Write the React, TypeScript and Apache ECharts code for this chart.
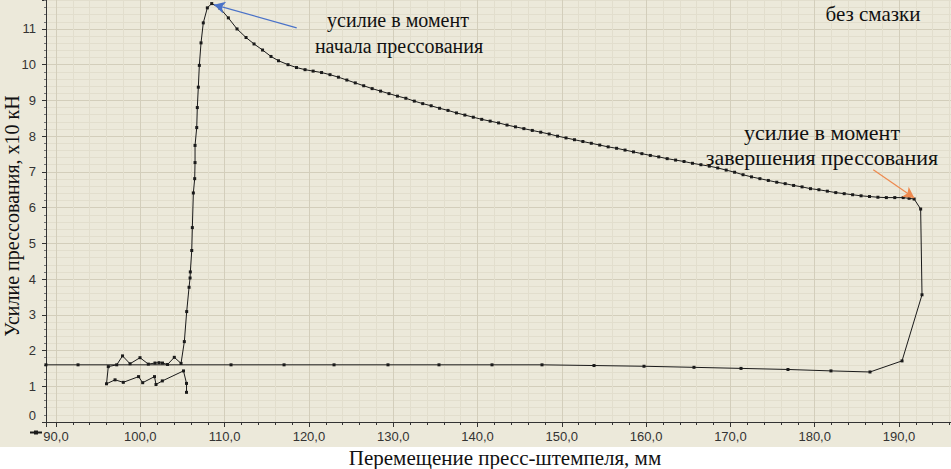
import React, { useEffect, useRef } from "react";
import * as echarts from "echarts";

// Перемещение пресс-штемпеля, мм (x) and Усилие прессования, x10 кН (y), in path order
const displacement = [
  105.48, 105.48, 105.12, 102.61, 101.86, 101.68, 100.28, 99.79, 97.98, 97.0, 95.99,
  96.2, 97.2, 97.89, 98.78, 99.96, 100.95, 101.74, 102.22, 102.63, 103.23, 104.03, 104.83,
  105.22, 105.5, 105.78, 105.9, 105.93, 106.1, 106.17, 106.29, 106.45, 106.49, 106.49, 106.69,
  106.76, 106.88, 107.0, 107.2, 107.47, 107.95, 108.47,
  109.45, 110.44, 111.47, 112.54, 113.49, 114.5, 115.5, 116.39, 117.52, 118.53, 119.54,
  120.5, 121.5, 122.5, 123.5, 124.5, 125.5, 126.5, 127.5, 128.5, 129.5, 130.5, 131.5, 132.5,
  133.5, 134.5, 135.5, 136.5, 137.5, 138.5, 139.5, 140.5, 141.5, 142.5, 143.5, 144.5, 145.5,
  146.5, 147.5, 148.5, 149.5, 150.5, 151.5, 152.5, 153.5, 154.5, 155.5, 156.5, 157.5, 158.5,
  159.5, 160.5, 161.5, 162.5, 163.5, 164.5, 165.5, 166.5, 167.5, 168.5, 169.5, 170.5, 171.5,
  172.5, 173.5, 174.5, 175.5, 176.5, 177.5, 178.5, 179.5, 180.5, 181.5, 182.5, 183.5, 184.5,
  185.5, 186.5, 187.5, 188.5, 189.5, 190.5, 191.2, 191.8, 192.57, 192.73,
  190.36, 186.56, 181.93, 176.83, 171.26, 165.68, 159.75, 153.82, 147.65, 141.72, 135.43,
  129.38, 122.98, 117.05, 110.76, 92.61, 88.8,
];
const force = [
  0.83, 1.08, 1.43, 1.15, 1.05, 1.27, 1.1, 1.27, 1.11, 1.18, 1.07,
  1.55, 1.6, 1.85, 1.63, 1.8, 1.62, 1.65, 1.66, 1.65, 1.61, 1.81, 1.64,
  2.25, 3.09, 3.77, 4.03, 4.2, 4.8, 5.44, 6.41, 6.81, 7.26, 7.74, 8.24,
  8.8, 9.37, 9.98, 10.61, 11.17, 11.59, 11.71,
  11.58, 11.31, 11.0, 10.76, 10.58, 10.41, 10.23, 10.11, 10.0, 9.92, 9.86,
  9.82, 9.78, 9.72, 9.65, 9.57, 9.49, 9.41, 9.33, 9.26, 9.19, 9.12, 9.06, 8.98,
  8.91, 8.85, 8.78, 8.72, 8.65, 8.59, 8.53, 8.47, 8.42, 8.37, 8.31, 8.26, 8.21,
  8.16, 8.11, 8.06, 8.0, 7.95, 7.9, 7.85, 7.8, 7.75, 7.7, 7.66, 7.61, 7.56,
  7.51, 7.46, 7.42, 7.37, 7.33, 7.29, 7.24, 7.2, 7.16, 7.11, 7.05, 6.99, 6.92,
  6.86, 6.81, 6.76, 6.71, 6.67, 6.62, 6.58, 6.53, 6.5, 6.46, 6.42, 6.39, 6.36,
  6.33, 6.31, 6.29, 6.28, 6.28, 6.28, 6.26, 6.24, 5.96, 3.56,
  1.71, 1.4, 1.43, 1.47, 1.5, 1.53, 1.56, 1.58, 1.6, 1.6, 1.6,
  1.6, 1.6, 1.6, 1.6, 1.6, 1.6,
];

// axis ranges
const xRange = [88.81, 196.17];
const yRange = [0, 11.81];

// arrows: [start, tip] in data coordinates
const startArrow = [[118.55, 11.03], [108.74, 11.68]];
const endArrow = [[186.95, 7.06], [191.82, 6.27]];

const texts = {
  yTitle: "Усилие прессования, x10 кН",
  xTitle: "Перемещение пресс-штемпеля, мм",
  startA: "усилие в момент",
  startB: "начала прессования",
  endA: "усилие в момент",
  endB: "завершения прессования",
  note: "без смазки",
};

const BG = "#ECE9DA";
const MAJOR = "#D3CEBB";
const MINOR = "#E2DECD";
const AXIS = "#333333";
const SERIF = "'Liberation Serif', 'Times New Roman', serif";
const SANS = "'Liberation Sans', Arial, sans-serif";

const isMultiple = (v: number, step: number) => Math.abs(v - Math.round(v / step) * step) < 1e-6;

export default function App() {
  const ref = useRef<HTMLDivElement>(null);
  useEffect(() => {
    if (!ref.current) return;
    const chart = echarts.init(ref.current, undefined, { renderer: "svg" });
    const data = displacement.map((x, i) => [x, force[i]]);
    const serifText = (text: string, x: number, y: number, size: number, extra: any = {}) => ({
      type: "text",
      x,
      y,
      z: 100,
      style: { text, font: `${size}px ${SERIF}`, fill: "#111", align: "center", verticalAlign: "middle" },
      ...extra,
    });
    chart.setOption({
      animation: false,
      backgroundColor: BG,
      grid: { left: 46, right: 0, top: 0, bottom: 47, containLabel: false },
      legend: {
        left: 24,
        top: 425,
        itemWidth: 12,
        itemHeight: 5,
        itemGap: 0,
        formatter: () => "",
        textStyle: { fontSize: 1 },
        data: ["series"],
      },
      xAxis: {
        type: "value",
        min: xRange[0],
        max: xRange[1],
        minInterval: 10,
        maxInterval: 10,
        splitNumber: 10,
        axisLine: { show: true, onZero: false, lineStyle: { color: AXIS, width: 1 } },
        axisTick: { show: true, length: 5, lineStyle: { color: AXIS } },
        minorTick: { show: true, splitNumber: 5, length: 3, lineStyle: { color: AXIS } },
        splitLine: { show: true, lineStyle: { color: MAJOR, width: 1 } },
        minorSplitLine: { show: true, lineStyle: { color: MINOR, width: 1 } },
        axisLabel: {
          margin: 8,
          color: "#333",
          fontFamily: SANS,
          fontSize: 13,
          showMinLabel: false,
          showMaxLabel: false,
          formatter: (v: number) => (isMultiple(v, 10) ? v.toFixed(1).replace(".", ",") : ""),
        },
      },
      yAxis: {
        type: "value",
        min: yRange[0],
        max: yRange[1],
        minInterval: 1,
        maxInterval: 1,
        splitNumber: 12,
        axisLine: { show: true, onZero: false, lineStyle: { color: AXIS, width: 1 } },
        axisTick: { show: true, length: 4, lineStyle: { color: AXIS } },
        minorTick: { show: true, splitNumber: 5, length: 2, lineStyle: { color: "#777" } },
        splitLine: { show: true, lineStyle: { color: MAJOR, width: 1 } },
        minorSplitLine: { show: true, lineStyle: { color: MINOR, width: 1 } },
        axisLabel: {
          margin: 10,
          color: "#333",
          fontFamily: SANS,
          fontSize: 13,
          showMaxLabel: false,
          verticalAlignMinLabel: "bottom",
          formatter: (v: number) => (isMultiple(v, 1) ? String(Math.round(v)) : ""),
        },
      },
      series: [
        {
          name: "series",
          type: "line",
          data,
          symbol: "rect",
          symbolSize: 3,
          showSymbol: true,
          clip: true,
          lineStyle: { color: "#1a1a1a", width: 1 },
          itemStyle: { color: "#1a1a1a" },
          markLine: {
            silent: true,
            symbol: ["none", "arrow"],
            symbolSize: [9, 11],
            label: { show: false },
            data: [
              [
                { coord: startArrow[0], lineStyle: { color: "#4A72C8", width: 1.2, type: "solid" } },
                { coord: startArrow[1] },
              ],
              [
                { coord: endArrow[0], lineStyle: { color: "#EE8A4F", width: 1.2, type: "solid" } },
                { coord: endArrow[1] },
              ],
            ],
          },
        },
      ],
      graphic: [
        {
          type: "rect",
          z: -100,
          shape: { x: 0, y: 447, width: 951, height: 22 },
          style: { fill: "#ffffff" },
        },
        serifText(texts.yTitle, 12, 216, 20, { rotation: Math.PI / 2 }),
        serifText(texts.xTitle, 505, 458, 21),
        serifText(texts.startA, 398, 20, 20),
        serifText(texts.startB, 399, 46, 20),
        serifText(texts.endA, 822, 132, 22),
        serifText(texts.endB, 822, 157, 22),
        serifText(texts.note, 873, 14, 21),
      ],
    });
    return () => chart.dispose();
  }, []);
  return (
    <div
      ref={ref}
      style={{ position: "fixed", left: 0, top: 0, width: 951, height: 469 }}
    />
  );
}
